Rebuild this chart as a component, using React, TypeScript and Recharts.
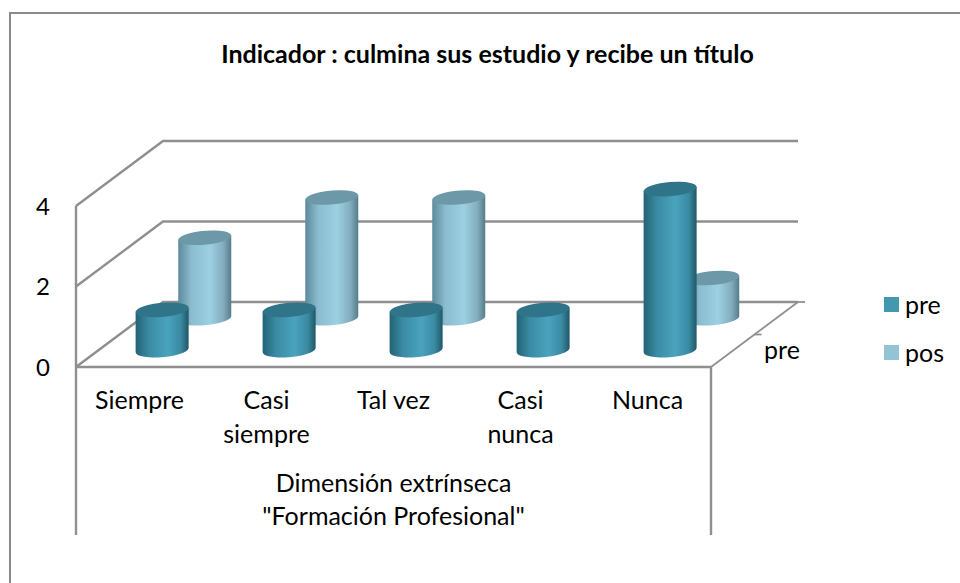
import React from "react";
import { Bar, BarChart, CartesianGrid, Legend, XAxis, YAxis } from "recharts";

const categorias = ["Siempre", "Casi siempre", "Tal vez", "Casi nunca", "Nunca"];
const pre = [1, 1, 1, 1, 4];
const pos = [2, 3, 3, 0, 1];
const yTicks = [0, 2, 4];
const titulo = "Indicador : culmina sus estudio y recibe un título";
const dimension = ["Dimensión extrínseca", '"Formación Profesional"'];
const serieProfundidad = "pre";

const datos = categorias.map((c, i) => ({ categoria: c, pre: pre[i], pos: pos[i] }));

const FONT = "Lato, 'Open Sans', sans-serif";
const GRIS = "#8f8f8f";
const TAM = 25;
// desplazamiento de la pared del fondo respecto al frente
const DX = 87;
const DY = 65;
const ANCHO_BARRA = 53;

const lineasGrid = (props: any) => {
  const { x1, x2, y1, index } = props;
  const esPiso = y1 > 300;
  return (
    <g key={index} fill="none" stroke={GRIS} strokeWidth={2.4}>
      <path d={`M${x1} ${y1} L${x1 + DX} ${y1 - DY} L${x2 + DX} ${y1 - DY}`} />
      {esPiso && (
        <>
          <path d={`M${x1} ${y1} L${x2} ${y1}`} />
          <path d={`M${x2} ${y1} L${x2 + DX} ${y1 - DY}`} strokeWidth={1.8} />
          <path d={`M${x2 + DX} ${y1 - DY} h7`} strokeWidth={1.8} />
          <path d={`M${x2 + DX / 2} ${y1 - DY / 2} h7`} strokeWidth={1.8} />
          <path d={`M${x1} ${y1 - 161} V${y1 + 168}`} />
          <path d={`M${x2} ${y1} V${y1 + 168}`} />
          <text
            x={x2 + 71}
            y={y1 - 8}
            textAnchor="middle"
            fontFamily={FONT}
            fontSize={TAM}
            fill="#000"
            stroke="none"
          >
            {serieProfundidad}
          </text>
        </>
      )}
    </g>
  );
};

const Cilindro = (props: any) => {
  const { x, y, width, height, fondo, gradiente, tapa } = props;
  if (!height || height <= 0) return null;
  const f = fondo;
  const left = x + DX * f;
  const right = left + width;
  const top = y - DY * f;
  const bottom = top + height;
  const rx = width / 2;
  const ry = 7;
  const inc = 2; // la elipse va un poco inclinada
  const giro = -5;
  const cuerpo =
    `M${left} ${top + inc} L${left} ${bottom + inc} ` +
    `A${rx} ${ry} ${giro} 0 0 ${right} ${bottom - inc} ` +
    `L${right} ${top - inc} Z`;
  const elipse =
    `M${left} ${top + inc} A${rx} ${ry} ${giro} 0 1 ${right} ${top - inc} ` +
    `A${rx} ${ry} ${giro} 0 1 ${left} ${top + inc} Z`;
  return (
    <g>
      <path d={cuerpo} fill={`url(#${gradiente})`} />
      <path d={elipse} fill={tapa} />
    </g>
  );
};

const tickCategoria = (props: any) => {
  const { x, payload } = props;
  const partes = String(payload.value).split(" ");
  const lineas = payload.value === "Tal vez" ? [payload.value] : partes;
  return (
    <text x={x} textAnchor="middle" fontFamily={FONT} fontSize={TAM} fill="#000">
      {lineas.map((l: string, i: number) => (
        <tspan key={i} x={x} y={409 + 34 * i}>
          {l}
        </tspan>
      ))}
    </text>
  );
};

const etiquetaDimension = (props: any) => {
  const { viewBox } = props;
  const cx = viewBox.x + viewBox.width / 2;
  return (
    <text textAnchor="middle" fontFamily={FONT} fontSize={TAM} fill="#000">
      {dimension.map((l, i) => (
        <tspan key={i} x={cx} y={492 + 33 * i}>
          {l}
        </tspan>
      ))}
    </text>
  );
};

const leyenda = (props: any) => {
  const items = [...(props.payload || [])].reverse();
  return (
    <div style={{ fontFamily: FONT, fontSize: TAM }}>
      {items.map((it: any) => (
        <div key={it.value} style={{ display: "flex", alignItems: "center", height: 48 }}>
          <span style={{ width: 15, height: 15, background: it.color, marginRight: 6 }} />
          <span style={{ color: "#000" }}>{it.value}</span>
        </div>
      ))}
    </div>
  );
};

export default function App() {
  return (
    <div style={{ position: "absolute", left: 0, top: 0, width: 960, height: 583, background: "#fff" }}>
      <div
        style={{
          position: "absolute",
          left: 9,
          top: 12,
          width: 951,
          height: 571,
          borderLeft: "2px solid #8a8a8a",
          borderTop: "2px solid #8a8a8a",
          boxSizing: "border-box",
        }}
      />
      <div
        style={{
          position: "absolute",
          left: 0,
          width: 975,
          top: 38,
          textAlign: "center",
          fontFamily: FONT,
          fontWeight: 700,
          fontSize: 25,
          color: "#000",
        }}
      >
        {titulo}
      </div>
      <BarChart
        width={960}
        height={583}
        data={datos}
        margin={{ top: 206, right: 249, bottom: 0, left: 35 }}
        barSize={ANCHO_BARRA}
        barGap={-ANCHO_BARRA}
        style={{ position: "absolute", left: 0, top: 0 }}
      >
        <defs>
          <linearGradient id="gradPre" x1="0" x2="1" y1="0" y2="0">
            <stop offset="0" stopColor="#236274" />
            <stop offset="0.25" stopColor="#3a8ba3" />
            <stop offset="0.6" stopColor="#4aa3bd" />
            <stop offset="0.85" stopColor="#3a8aa2" />
            <stop offset="1" stopColor="#1f5767" />
          </linearGradient>
          <linearGradient id="gradPos" x1="0" x2="1" y1="0" y2="0">
            <stop offset="0" stopColor="#5d8a9a" />
            <stop offset="0.25" stopColor="#8bbccf" />
            <stop offset="0.6" stopColor="#9dd0e3" />
            <stop offset="0.85" stopColor="#83adbd" />
            <stop offset="1" stopColor="#557c8a" />
          </linearGradient>
        </defs>
        <CartesianGrid horizontal={lineasGrid} vertical={false} />
        <XAxis
          dataKey="categoria"
          axisLine={false}
          tickLine={false}
          interval={0}
          tick={tickCategoria}
          height={216}
          label={etiquetaDimension}
        />
        <YAxis
          domain={[0, 4]}
          ticks={yTicks}
          width={41}
          axisLine={false}
          tickLine={false}
          tickMargin={20}
          tick={{ fontFamily: FONT, fontSize: 24, fill: "#000" }}
        />
        <Legend
          content={leyenda}
          layout="vertical"
          verticalAlign="middle"
          wrapperStyle={{ left: 884, top: 280, width: 70, bottom: "auto", right: "auto" }}
        />
        <Bar
          dataKey="pos"
          fill="#93c3d5"
          isAnimationActive={false}
          shape={(p: any) => <Cilindro {...p} fondo={0.75} gradiente="gradPos" tapa="#6c98a8" />}
        />
        <Bar
          dataKey="pre"
          fill="#4198af"
          isAnimationActive={false}
          shape={(p: any) => <Cilindro {...p} fondo={0.26} gradiente="gradPre" tapa="#2f7488" />}
        />
      </BarChart>
    </div>
  );
}
